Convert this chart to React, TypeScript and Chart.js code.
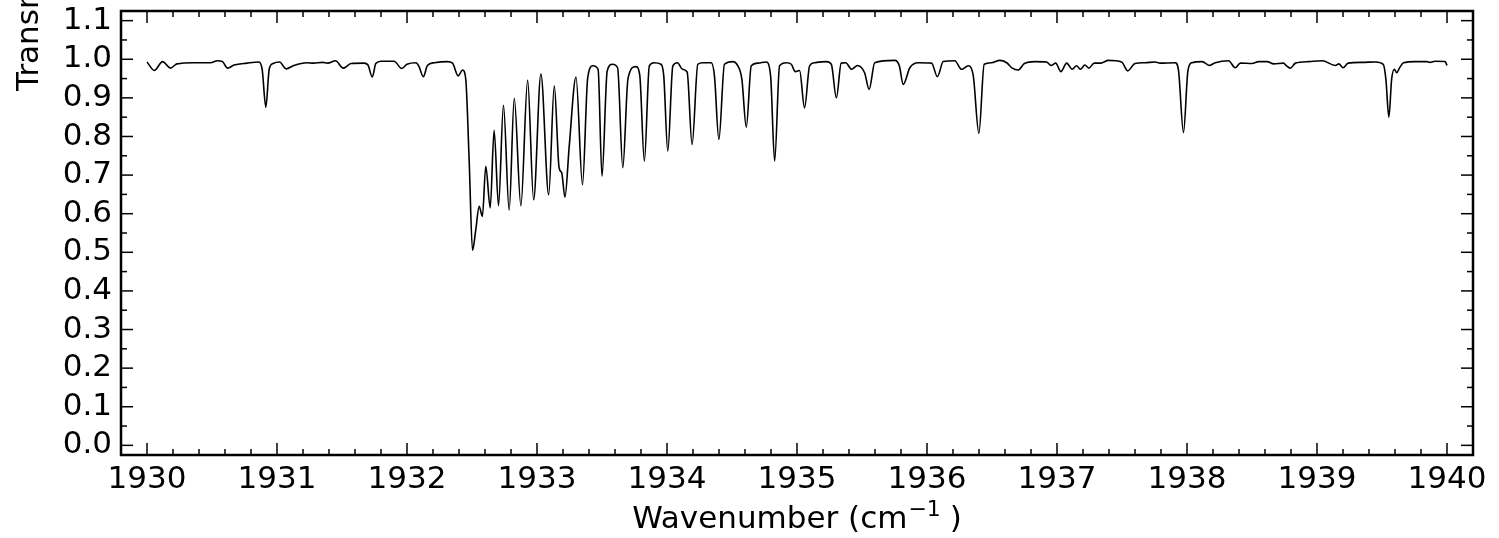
import React, { useEffect, useRef } from 'react';
import { Chart, registerables } from 'chart.js';

Chart.register(...registerables);

// Wavenumber (cm^-1) sample positions
const WAVENUMBER: number[] = [
  1930.0, 1930.056, 1930.12, 1930.18, 1930.23, 1930.36, 1930.49, 1930.54, 1930.58, 1930.62,
  1930.67, 1930.77, 1930.86, 1930.886, 1930.914, 1930.94, 1930.97, 1931.02, 1931.07, 1931.13,
  1931.23, 1931.28, 1931.35, 1931.39, 1931.45, 1931.51, 1931.57, 1931.67, 1931.7, 1931.733,
  1931.76, 1931.8, 1931.9, 1931.96, 1932.0, 1932.07, 1932.09, 1932.126, 1932.157, 1932.21,
  1932.31, 1932.35, 1932.394, 1932.428, 1932.452, 1932.478, 1932.504, 1932.529, 1932.555, 1932.58,
  1932.606, 1932.64, 1932.67, 1932.704, 1932.742, 1932.786, 1932.825, 1932.876, 1932.928, 1932.974,
  1933.03, 1933.09, 1933.133, 1933.17, 1933.19, 1933.215, 1933.248, 1933.3, 1933.35, 1933.39,
  1933.43, 1933.47, 1933.5, 1933.54, 1933.58, 1933.62, 1933.66, 1933.7, 1933.76, 1933.79,
  1933.826, 1933.864, 1933.9, 1933.954, 1933.975, 1934.006, 1934.045, 1934.08, 1934.12, 1934.155,
  1934.193, 1934.237, 1934.276, 1934.34, 1934.365, 1934.399, 1934.442, 1934.507, 1934.545, 1934.576,
  1934.61, 1934.648, 1934.7, 1934.763, 1934.797, 1934.828, 1934.866, 1934.918, 1934.956, 1934.987,
  1935.02, 1935.058, 1935.097, 1935.136, 1935.225, 1935.264, 1935.303, 1935.34, 1935.375, 1935.42,
  1935.465, 1935.52, 1935.555, 1935.598, 1935.752, 1935.787, 1935.817, 1935.868, 1935.933, 1936.035,
  1936.08, 1936.125, 1936.214, 1936.266, 1936.317, 1936.356, 1936.399, 1936.44, 1936.497, 1936.56,
  1936.613, 1936.656, 1936.7, 1936.749, 1936.83, 1936.92, 1936.954, 1936.99, 1937.03, 1937.074,
  1937.117, 1937.15, 1937.18, 1937.214, 1937.245, 1937.286, 1937.337, 1937.395, 1937.497, 1937.544,
  1937.6, 1937.677, 1937.754, 1937.793, 1937.909, 1937.935, 1937.973, 1938.007, 1938.037, 1938.115,
  1938.14, 1938.171, 1938.217, 1938.32, 1938.371, 1938.41, 1938.5, 1938.552, 1938.616, 1938.667,
  1938.744, 1938.762, 1938.795, 1938.834, 1938.937, 1939.04, 1939.142, 1939.168, 1939.2, 1939.24,
  1939.35, 1939.45, 1939.51, 1939.53, 1939.553, 1939.574, 1939.595, 1939.613, 1939.634, 1939.665,
  1939.754, 1939.844, 1939.87, 1939.908, 1939.985, 1940.0,
];

// Transmission values at those positions
const TRANSMISSION: number[] = [
  0.993, 0.971, 0.994, 0.977, 0.988, 0.991, 0.991, 0.996, 0.994, 0.977,
  0.985, 0.99, 0.993, 0.974, 0.876, 0.974, 0.989, 0.993, 0.975, 0.984,
  0.991, 0.99, 0.992, 0.99, 0.996, 0.977, 0.989, 0.99, 0.985, 0.954,
  0.989, 0.995, 0.995, 0.976, 0.987, 0.991, 0.983, 0.955, 0.984, 0.991,
  0.994, 0.99, 0.957, 0.972, 0.948, 0.74, 0.505, 0.558, 0.619, 0.593,
  0.723, 0.615, 0.816, 0.621, 0.881, 0.609, 0.899, 0.621, 0.946, 0.636,
  0.962, 0.649, 0.931, 0.719, 0.706, 0.643, 0.775, 0.954, 0.675, 0.952,
  0.983, 0.974, 0.697, 0.97, 0.987, 0.978, 0.719, 0.95, 0.981, 0.96,
  0.736, 0.983, 0.991, 0.987, 0.957, 0.762, 0.983, 0.991, 0.974, 0.967,
  0.779, 0.987, 0.991, 0.991, 0.957, 0.792, 0.987, 0.994, 0.983, 0.948,
  0.824, 0.983, 0.99, 0.993, 0.957, 0.736, 0.983, 0.991, 0.987, 0.968,
  0.971, 0.874, 0.983, 0.991, 0.994, 0.987, 0.9, 0.99, 0.991, 0.974,
  0.984, 0.965, 0.922, 0.991, 0.997, 0.983, 0.935, 0.978, 0.991, 0.99,
  0.955, 0.994, 0.996, 0.974, 0.983, 0.957, 0.808, 0.987, 0.991, 0.997,
  0.991, 0.977, 0.972, 0.989, 0.994, 0.993, 0.984, 0.99, 0.968, 0.99,
  0.974, 0.983, 0.974, 0.985, 0.977, 0.99, 0.99, 0.997, 0.993, 0.97,
  0.989, 0.991, 0.993, 0.99, 0.991, 0.97, 0.81, 0.97, 0.991, 0.994,
  0.99, 0.984, 0.991, 0.996, 0.978, 0.99, 0.989, 0.994, 0.994, 0.988,
  0.99, 0.984, 0.977, 0.99, 0.994, 0.996, 0.984, 0.988, 0.978, 0.99,
  0.992, 0.993, 0.987, 0.948, 0.85, 0.948, 0.974, 0.965, 0.977, 0.991,
  0.994, 0.994, 0.992, 0.995, 0.994, 0.984,
];

const X_TICKS: number[] = [1930, 1931, 1932, 1933, 1934, 1935, 1936, 1937, 1938, 1939, 1940];
const Y_TICKS: number[] = [0.0, 0.1, 0.2, 0.3, 0.4, 0.5, 0.6, 0.7, 0.8, 0.9, 1.0, 1.1];
const X_MINOR_DIV = 5;
const Y_MINOR_DIV = 2;

const X_TITLE_MAIN = 'Wavenumber (cm';
const X_TITLE_SUP = '−1';
const X_TITLE_END = ' )';
const Y_TITLE = 'Transmission';

const FONT = '"DejaVu Sans", "Liberation Sans", sans-serif';
const FONT_SIZE = 31;
const SUP_SIZE = 22;

const framePlugin = {
  id: 'frameTicks',
  afterDraw(chart: any) {
    const { ctx, chartArea, scales } = chart;
    const { left, right, top, bottom } = chartArea;
    const xs = scales.x;
    const ys = scales.y;
    ctx.save();
    ctx.strokeStyle = '#000';
    ctx.lineCap = 'butt';
    const seg = (x1: number, y1: number, x2: number, y2: number) => {
      ctx.beginPath();
      ctx.moveTo(x1, y1);
      ctx.lineTo(x2, y2);
      ctx.stroke();
    };
    const MAJOR = 12;
    const MINOR = 6;
    ctx.lineWidth = 1.5;
    // x ticks
    for (let i = 0; i < X_TICKS.length; i++) {
      const v = X_TICKS[i];
      const px = xs.getPixelForValue(v);
      seg(px, bottom, px, bottom - MAJOR);
      seg(px, top, px, top + MAJOR);
      if (i < X_TICKS.length - 1) {
        const step = (X_TICKS[i + 1] - v) / X_MINOR_DIV;
        for (let k = 1; k < X_MINOR_DIV; k++) {
          const mx = xs.getPixelForValue(v + k * step);
          seg(mx, bottom, mx, bottom - MINOR);
          seg(mx, top, mx, top + MINOR);
        }
      }
    }
    // y ticks
    for (let i = 0; i < Y_TICKS.length; i++) {
      const v = Y_TICKS[i];
      const py = ys.getPixelForValue(v);
      seg(left, py, left + MAJOR, py);
      seg(right, py, right - MAJOR, py);
      const step = i < Y_TICKS.length - 1 ? (Y_TICKS[i + 1] - v) / Y_MINOR_DIV : (Y_TICKS[1] - Y_TICKS[0]) / Y_MINOR_DIV;
      for (let k = 1; k < Y_MINOR_DIV; k++) {
        const mv = v + k * step;
        if (mv > ys.max) continue;
        const my = ys.getPixelForValue(mv);
        seg(left, my, left + MINOR, my);
        seg(right, my, right - MINOR, my);
      }
    }
    // frame
    ctx.lineWidth = 2.5;
    ctx.strokeRect(left, top, right - left, bottom - top);

    ctx.fillStyle = '#000';
    // x title with superscript
    const mainFont = `${FONT_SIZE}px ${FONT}`;
    const supFont = `${SUP_SIZE}px ${FONT}`;
    ctx.textBaseline = 'alphabetic';
    ctx.textAlign = 'left';
    ctx.font = mainFont;
    const w1 = ctx.measureText(X_TITLE_MAIN).width;
    const w3 = ctx.measureText(X_TITLE_END).width;
    ctx.font = supFont;
    const w2 = ctx.measureText(X_TITLE_SUP).width;
    const total = w1 + w2 + w3;
    const cx = (left + right) / 2;
    const base = 528;
    let tx = cx - total / 2;
    ctx.font = mainFont;
    ctx.fillText(X_TITLE_MAIN, tx, base);
    tx += w1;
    ctx.font = supFont;
    ctx.fillText(X_TITLE_SUP, tx + 1, base - 12);
    tx += w2;
    ctx.font = mainFont;
    ctx.fillText(X_TITLE_END, tx, base);

    // y title (rotated)
    ctx.font = mainFont;
    ctx.translate(38, 91);
    ctx.rotate(-Math.PI / 2);
    ctx.textAlign = 'left';
    ctx.textBaseline = 'alphabetic';
    ctx.fillText(Y_TITLE, 0, 0);
    ctx.restore();
  },
};

export default function App() {
  const canvasRef = useRef<HTMLCanvasElement | null>(null);

  useEffect(() => {
    const canvas = canvasRef.current;
    if (!canvas) return;
    const points = WAVENUMBER.map((x, i) => ({ x, y: TRANSMISSION[i] }));
    const chart = new Chart(canvas, {
      type: 'line',
      data: {
        datasets: [
          {
            data: points,
            borderColor: '#000',
            borderWidth: 1.6,
            pointRadius: 0,
            fill: false,
            cubicInterpolationMode: 'monotone',
          },
        ],
      },
      options: {
        responsive: false,
        animation: false,
        events: [],
        layout: { padding: { left: 0, top: 11, right: 26, bottom: 0 } },
        plugins: {
          legend: { display: false },
          tooltip: { enabled: false },
          title: { display: false },
        },
        scales: {
          x: {
            type: 'linear',
            min: 1929.8,
            max: 1940.2,
            grid: { display: false, drawTicks: false },
            border: { display: false },
            afterBuildTicks: (scale: any) => {
              scale.ticks = X_TICKS.map((v) => ({ value: v }));
            },
            afterFit: (scale: any) => {
              scale.height = 83;
              scale.paddingLeft = 0;
              scale.paddingRight = 0;
            },
            ticks: {
              color: '#000',
              padding: 6,
              maxRotation: 0,
              autoSkip: false,
              font: { family: FONT, size: FONT_SIZE },
              callback: (v: any) => String(v),
            },
          },
          y: {
            type: 'linear',
            min: -0.025,
            max: 1.125,
            grid: { display: false, drawTicks: false },
            border: { display: false },
            afterBuildTicks: (scale: any) => {
              scale.ticks = Y_TICKS.map((v) => ({ value: v }));
            },
            afterFit: (scale: any) => {
              scale.width = 121;
              scale.paddingTop = 0;
              scale.paddingBottom = 0;
            },
            ticks: {
              color: '#000',
              padding: 9,
              autoSkip: false,
              font: { family: FONT, size: FONT_SIZE },
              callback: (v: any) => Number(v).toFixed(1),
            },
          },
        },
      },
      plugins: [framePlugin],
    } as any);
    return () => chart.destroy();
  }, []);

  return (
    <div style={{ position: 'absolute', left: 0, top: 0, width: 1499, height: 538, background: '#fff' }}>
      <canvas ref={canvasRef} width={1499} height={538} style={{ display: 'block', width: 1499, height: 538 }} />
    </div>
  );
}
